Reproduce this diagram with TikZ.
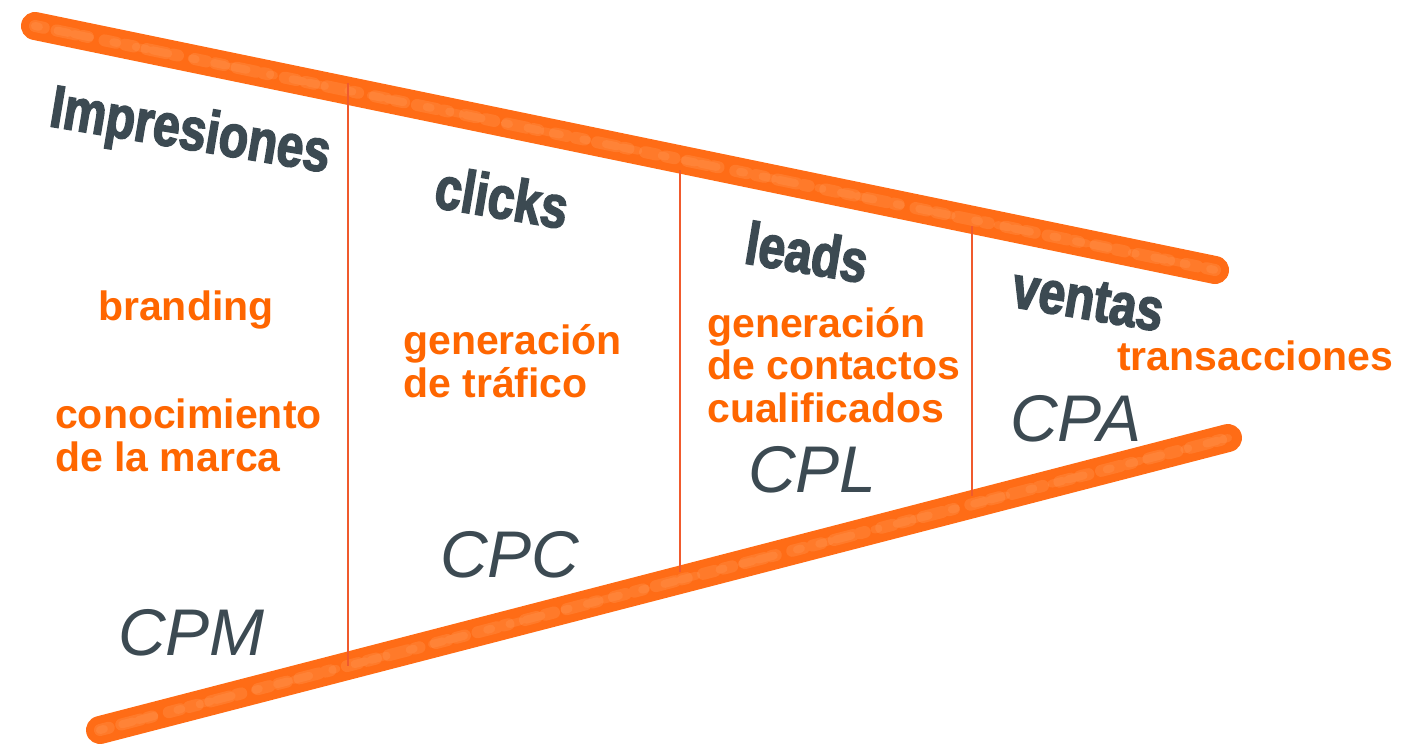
\documentclass[tikz,border=0pt]{standalone}
\usepackage{fontspec}
\setmainfont{Liberation Sans}
\newfontfamily\titlefont{Liberation Sans Bold}[FakeStretch=0.8,FakeBold=2.5]
\newfontfamily\handfont{Liberation Sans Italic}
\definecolor{brush}{RGB}{255,108,22}
\definecolor{brushlight}{RGB}{255,160,95}
\definecolor{divider}{RGB}{240,90,45}
\definecolor{labelorange}{RGB}{255,102,0}
\definecolor{slate}{RGB}{60,74,82}
\tikzset{
  brushstroke/.style={draw=brush,line width=28pt,line cap=round},
  brushtex/.style={draw=brushlight,line width=12pt,line cap=round,opacity=0.28,dash pattern=on 9pt off 13pt on 20pt off 7pt on 5pt off 17pt on 12pt off 9pt},
  brushtexb/.style={draw=brushlight,line width=8pt,line cap=round,opacity=0.25,dash pattern=on 4pt off 19pt on 11pt off 6pt on 16pt off 24pt},
  dividerline/.style={draw=divider,line width=1.4pt},
  stagetitle/.style={inner sep=0pt,text=slate,font=\titlefont\fontsize{60}{64}\selectfont,rotate=-9.5},
  goal/.style={inner sep=0pt,anchor=base west,align=left,text=labelorange,font=\bfseries\fontsize{41}{42.5}\selectfont},
  metric/.style={inner sep=0pt,anchor=base west,text=slate,font=\handfont\fontsize{66}{70}\selectfont}
}
\begin{document}
\begin{tikzpicture}[x=1pt,y=-1pt]
\useasboundingbox (0,0) rectangle (1402,745);
% brush strokes
\coordinate (TL) at (35,26);
\coordinate (TR) at (1215,270);
\coordinate (BL) at (100,730);
\coordinate (BR) at (1228,438);
\draw[brushstroke] (TL) -- (TR);
\draw[brushstroke] (BL) -- (BR);
\draw[brushtex] (TL) -- (TR);
\draw[brushtex] (BL) -- (BR);
\draw[brushtexb,yshift=5pt] (TL) -- (TR);
\draw[brushtexb,yshift=-5pt] (BL) -- (BR);
% dividers
\coordinate (d1t) at (348,83);
\coordinate (d1b) at (348,666);
\coordinate (d2t) at (680,170);
\coordinate (d2b) at (680,572);
\coordinate (d3t) at (972,226);
\coordinate (d3b) at (972,496);
\draw[dividerline] (d1t) -- (d1b);
\draw[dividerline] (d2t) -- (d2b);
\draw[dividerline] (d3t) -- (d3b);
% stage titles
\node[stagetitle] (impresiones) at (190,134) {Impresiones};
\node[stagetitle] (clicks) at (502,197) {clicks};
\node[stagetitle] (leads) at (807,252) {leads};
\node[stagetitle] (ventas) at (1088,300) {ventas};
% goals (base anchor = baseline of last line)
\node[goal] (branding) at (98,320) {branding};
\node[goal] (conocimiento) at (55,471) {conocimiento\\de la marca};
\node[goal] (trafico) at (403,397) {generación\\de tráfico};
\node[goal] (contactos) at (707,422) {generación\\de contactos\\cualificados};
\node[goal] (transacciones) at (1117,370) {transacciones};
% metrics
\node[metric] (cpm) at (118,655) {CPM};
\node[metric] (cpc) at (440,577) {CPC};
\node[metric] (cpl) at (748,492) {CPL};
\node[metric] (cpa) at (1010,441) {CPA};
\end{tikzpicture}
\end{document}
